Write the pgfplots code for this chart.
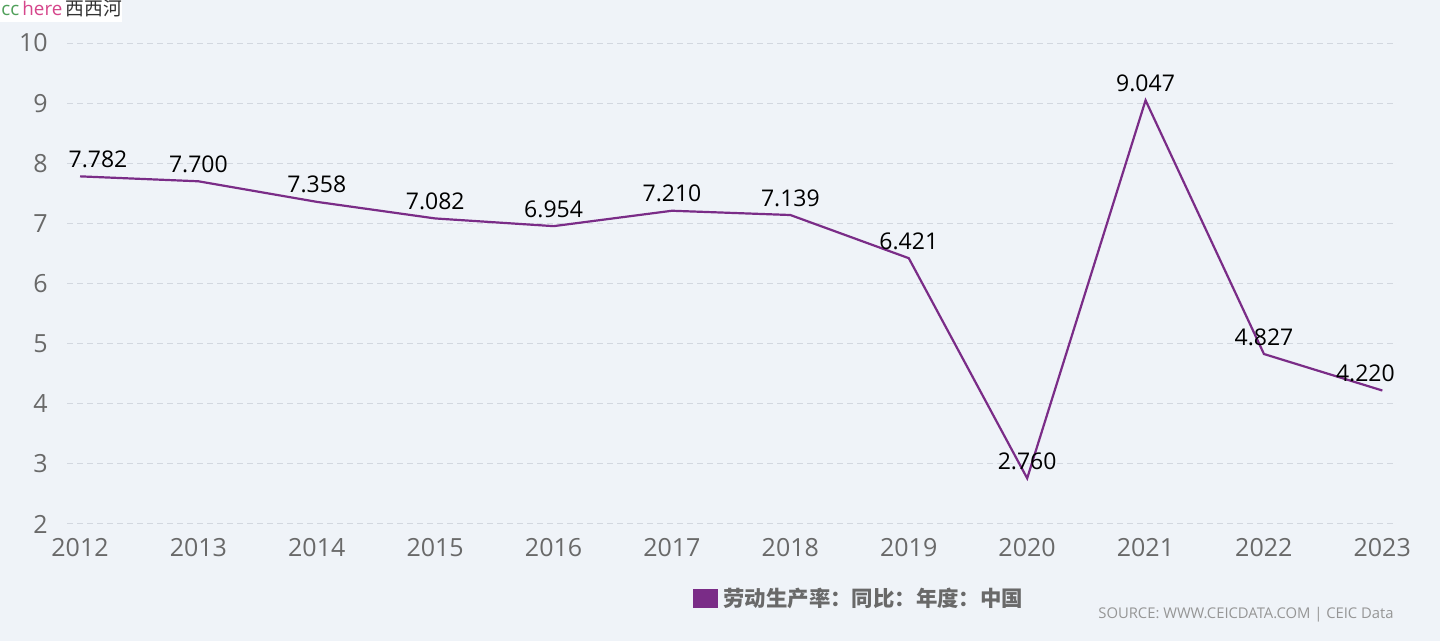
\documentclass[border=0pt]{standalone}
\usepackage{pgfplots}
\pgfplotsset{compat=1.18}
\usepackage{fontspec}
\setmainfont{Open Sans}
\newfontfamily\cjk{Noto Sans CJK SC}
\definecolor{bg}{RGB}{239,243,248}
\definecolor{lineP}{RGB}{122,44,135}
\definecolor{gridc}{RGB}{210,215,223}
\definecolor{tickc}{RGB}{105,105,105}
\definecolor{srcc}{RGB}{150,150,150}
\begin{document}
\begin{tikzpicture}
\fill[bg] (0,0) rectangle (720pt,320.5pt);
\begin{axis}[
  at={(33.5pt,58.5pt)}, anchor=south west,
  scale only axis, width=663pt, height=240.5pt,
  xmin=2011.89, xmax=2023.09, ymin=2, ymax=10,
  xtick={2012,...,2023}, ytick={2,...,10},
  axis line style={draw=none},
  major tick length=0pt,
  ymajorgrids,
  grid style={gridc, line width=0.5pt, dash pattern=on 3pt off 2pt},
  /pgf/number format/assume math mode=true,
  /pgf/number format/1000 sep={},
  tick label style={font=\fontsize{12.5}{14}\selectfont, text=tickc},
  xticklabel style={anchor=base, inner sep=0pt, yshift=-16.5pt},
  yticklabel style={anchor=east, inner sep=0pt, xshift=-9.5pt},
  clip=false,
]
\addplot[lineP, line width=1.1pt] coordinates {
(2012,7.782) (2013,7.700) (2014,7.358) (2015,7.082) (2016,6.954) (2017,7.210)
(2018,7.139) (2019,6.421) (2020,2.760) (2021,9.047) (2022,4.827) (2023,4.220)};
\pgfplotsset{lbl/.style={draw=none, mark=none, nodes near coords,
  point meta=explicit symbolic,
  every node near coord/.style={anchor=base, inner sep=0pt, yshift=4.5pt,
    font=\fontsize{11.5}{13}\selectfont, text=black}}}
\addplot[lbl] table[meta=l] {
x y l
2013 7.700 7.700
2014 7.358 7.358
2015 7.082 7.082
2016 6.954 6.954
2017 7.210 7.210
2018 7.139 7.139
2019 6.421 6.421
2020 2.760 2.760
2021 9.047 9.047
2022 4.827 4.827
};
\addplot[lbl, every node near coord/.append style={xshift=9pt}] table[meta=l] {
x y l
2012 7.782 7.782
};
\addplot[lbl, every node near coord/.append style={xshift=-8.5pt}] table[meta=l] {
x y l
2023 4.220 4.220
};
\end{axis}
% legend
\fill[lineP] (346.5pt,16.5pt) rectangle (359pt,26pt);
\node[anchor=west, inner sep=0pt, text=tickc, font=\cjk\bfseries\fontsize{10.7}{12}\selectfont] at (361.5pt,21.5pt) {劳动生产率：同比：年度：中国};
% source
\node[anchor=base east, inner sep=0pt, text=srcc, font=\fontsize{7.4}{8}\selectfont] at (697pt,11pt) {SOURCE: WWW.CEICDATA.COM | CEIC Data};
% watermark
\fill[white] (0,309.5pt) rectangle (61pt,320.5pt);
\node[anchor=base west, inner sep=0pt, font=\fontsize{9.4}{10}\selectfont] at (0.5pt,312.5pt)
 {\textcolor[RGB]{80,160,90}{cc}\,\textcolor[RGB]{214,70,140}{here}\,{\cjk\textcolor[RGB]{50,50,50}{西西河}}};
\pgfresetboundingbox
\path (0,0) rectangle (720pt,320.5pt);
\end{tikzpicture}
\end{document}
